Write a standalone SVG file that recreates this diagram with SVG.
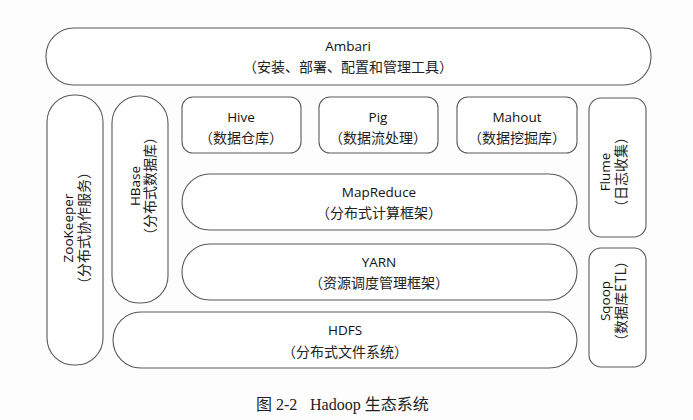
<svg xmlns="http://www.w3.org/2000/svg" width="693" height="420" viewBox="0 0 693 420">
<style>
.box{fill:#ffffff;stroke:#5a5a5a;stroke-width:1.1}
.t{font-family:"Open Sans","Liberation Sans",sans-serif;font-size:13.5px;font-weight:500;fill:#111;text-anchor:middle}
.c{font-family:"Noto Sans CJK SC",sans-serif;font-size:14px;fill:#222;text-anchor:middle}
.cap{font-family:"Liberation Serif","Noto Sans CJK SC",serif;font-size:16px;fill:#222}
</style>
<rect width="693" height="420" fill="#fdfdfd"/>
<g id="ambari">
<rect class="box" x="46" y="28" width="605" height="57" rx="28"/>
<text class="t" x="348" y="51">Ambari</text>
<text class="c" x="348" y="72">（安装、部署、配置和管理工具）</text>
</g>
<g id="zookeeper">
<rect class="box" x="47" y="95" width="56" height="270" rx="27"/>
<text class="t" transform="translate(73,228) rotate(-90)">ZooKeeper</text>
<text class="c" transform="translate(89,228) rotate(-90)">（分布式协作服务）</text>
</g>
<g id="hbase">
<rect class="box" x="112" y="96" width="56" height="207" rx="27"/>
<text class="t" transform="translate(140,186) rotate(-90)">HBase</text>
<text class="c" transform="translate(155,186) rotate(-90)">（分布式数据库）</text>
</g>
<g id="hive">
<rect class="box" x="182" y="97" width="119" height="56" rx="11"/>
<text class="t" x="241" y="122">Hive</text>
<text class="c" x="241" y="143">（数据仓库）</text>
</g>
<g id="pig">
<rect class="box" x="319" y="97" width="119" height="56" rx="11"/>
<text class="t" x="378" y="122">Pig</text>
<text class="c" x="378" y="143">（数据流处理）</text>
</g>
<g id="mahout">
<rect class="box" x="457" y="97" width="120" height="56" rx="11"/>
<text class="t" x="517" y="122">Mahout</text>
<text class="c" x="517" y="143">（数据挖掘库）</text>
</g>
<g id="mapreduce">
<rect class="box" x="182" y="174" width="395" height="56" rx="28"/>
<text class="t" x="379" y="197">MapReduce</text>
<text class="c" x="379" y="218">（分布式计算框架）</text>
</g>
<g id="yarn">
<rect class="box" x="182" y="244" width="395" height="56" rx="28"/>
<text class="t" x="379" y="267">YARN</text>
<text class="c" x="379" y="288">（资源调度管理框架）</text>
</g>
<g id="hdfs">
<rect class="box" x="113" y="312" width="464" height="56" rx="28"/>
<text class="t" x="345" y="335">HDFS</text>
<text class="c" x="345" y="357">（分布式文件系统）</text>
</g>
<g id="flume">
<rect class="box" x="589" y="98" width="57" height="139" rx="12"/>
<text class="t" transform="translate(610,172) rotate(-90)">Flume</text>
<text class="c" transform="translate(626,172) rotate(-90)">（日志收集）</text>
</g>
<g id="sqoop">
<rect class="box" x="589" y="248" width="57" height="119" rx="12"/>
<text class="t" transform="translate(610,301) rotate(-90)">Sqoop</text>
<text class="c" transform="translate(626,301) rotate(-90)">（数据库ETL）</text>
</g>
<g id="connectors"></g>
<text class="cap" x="256" y="410">图 2-2</text>
<text class="cap" x="310" y="410">Hadoop 生态系统</text>
</svg>
